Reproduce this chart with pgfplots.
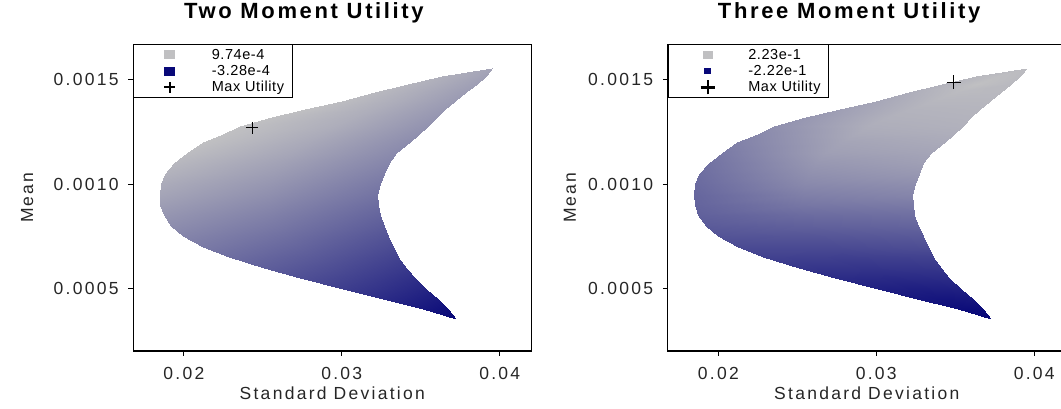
\documentclass[border=0pt]{standalone}
\usepackage{fontspec}
\setmainfont{Liberation Sans}
\usepackage{pgfplots}
\usepackage{pgfplotstable}
\pgfplotsset{compat=1.18}

\newfontfamily\labfont[LetterSpace=13]{Liberation Sans}
\newfontfamily\legfont[LetterSpace=4]{Liberation Sans}
\newfontfamily\ttlfont[LetterSpace=12]{Liberation Sans}

\definecolor{utilnavy}{RGB}{8,8,120}
\definecolor{utilgray}{RGB}{192,192,194}

% Feasible (sd, mean) region sampled on horizontal scanlines:
% outer edge, middle, inner edge; u2 = two-moment utility, u3 = three-moment utility
\pgfplotstableread{
x y u2 u3
0.03953 0.001555 7.74e-4 0.210
0.03953 0.001555 7.74e-4 0.210
0.03953 0.001555 7.74e-4 0.210
0.03632 0.00152 8.60e-4 0.205
0.03772 0.00152 8.09e-4 0.218
0.03912 0.00152 7.55e-4 0.210
0.03418 0.00148 8.96e-4 0.192
0.03637 0.00148 8.19e-4 0.223
0.03856 0.00148 7.37e-4 0.205
0.03208 0.00144 9.25e-4 0.179
0.03498 0.00144 8.28e-4 0.210
0.03788 0.00144 7.23e-4 0.205
0.02999 0.00140 9.50e-4 0.161
0.03359 0.00140 8.36e-4 0.201
0.03719 0.00140 7.08e-4 0.201
0.02769 0.00136 9.74e-4 0.143
0.03212 0.00136 8.44e-4 0.192
0.03655 0.00136 6.92e-4 0.196
0.02556 0.00132 9.74e-4 0.125
0.03078 0.00132 8.46e-4 0.187
0.03600 0.00132 6.72e-4 0.192
0.02353 0.00128 9.74e-4 0.107
0.02950 0.00128 8.45e-4 0.179
0.03546 0.00128 6.51e-4 0.187
0.02249 0.00124 9.74e-4 0.090
0.02870 0.00124 8.28e-4 0.170
0.03491 0.00124 6.31e-4 0.179
0.02121 0.00120 9.74e-4 0.072
0.02777 0.00120 8.14e-4 0.156
0.03433 0.00120 6.11e-4 0.170
0.02020 0.00115 9.46e-4 0.054
0.02683 0.00115 7.90e-4 0.143
0.03345 0.00115 5.91e-4 0.156
0.01938 0.00110 9.12e-4 0.036
0.02618 0.00110 7.57e-4 0.125
0.03297 0.00110 5.57e-4 0.143
0.01878 0.00105 8.74e-4 0.023
0.02574 0.00105 7.19e-4 0.107
0.03270 0.00105 5.15e-4 0.125
0.01855 0.00100 8.28e-4 0.014
0.02550 0.00100 6.75e-4 0.090
0.03244 0.00100 4.74e-4 0.103
0.01846 0.00095 7.80e-4 0.005
0.02535 0.00095 6.29e-4 0.067
0.03224 0.00095 4.30e-4 0.081
0.01850 0.00090 7.29e-4 0.001
0.02541 0.00090 5.77e-4 0.045
0.03231 0.00090 3.78e-4 0.054
0.01874 0.00085 6.74e-4 -0.008
0.02557 0.00085 5.23e-4 0.018
0.03240 0.00085 3.25e-4 0.027
0.01919 0.00080 6.16e-4 -0.022
0.02593 0.00080 4.64e-4 -0.008
0.03266 0.00080 2.67e-4 0.001
0.01995 0.00075 5.51e-4 -0.040
0.02645 0.00075 4.00e-4 -0.035
0.03295 0.00075 2.07e-4 -0.026
0.02122 0.00070 4.75e-4 -0.062
0.02724 0.00070 3.29e-4 -0.062
0.03326 0.00070 1.47e-4 -0.053
0.02285 0.00065 3.89e-4 -0.084
0.02822 0.00065 2.52e-4 -0.089
0.03359 0.00065 0.86e-4 -0.084
0.02510 0.00060 2.85e-4 -0.111
0.02959 0.00060 1.62e-4 -0.115
0.03408 0.00060 0.19e-4 -0.111
0.02736 0.00055 1.76e-4 -0.137
0.03100 0.00055 0.70e-4 -0.142
0.03463 0.00055 -0.50e-4 -0.137
0.03008 0.00050 0.48e-4 -0.164
0.03272 0.00050 -0.35e-4 -0.169
0.03535 0.00050 -1.25e-4 -0.164
0.03259 0.00045 -0.81e-4 -0.186
0.03436 0.00045 -1.40e-4 -0.191
0.03612 0.00045 -2.02e-4 -0.186
0.03516 0.00040 -2.18e-4 -0.209
0.03595 0.00040 -2.46e-4 -0.209
0.03673 0.00040 -2.75e-4 -0.209
0.03725 0.000356 -3.28e-4 -0.222
0.03725 0.000356 -3.28e-4 -0.222
0.03725 0.000356 -3.28e-4 -0.222
}\frontier

\pgfplotsset{
  utilaxis/.style={
    scale only axis, width=398pt, height=306.7pt,
    xmin=0.0168, xmax=0.0420, ymin=0.000201, ymax=0.00167,
    axis line style={line width=1.1pt},
    tick align=outside, xtick pos=bottom, ytick pos=left,
    major tick length=5pt, tick style={line width=1pt, black},
    scaled ticks=false,
    xtick={0.02,0.03,0.04}, xticklabels={0.02,0.03,0.04},
    ytick={0.0005,0.001,0.0015}, yticklabels={0.0005,0.0010,0.0015},
    ticklabel style={font=\labfont\fontsize{17.5}{20}\selectfont, text=black!85},
    xticklabel style={anchor=base, yshift=-24pt},
    yticklabel style={anchor=east, inner xsep=0pt, xshift=-9.5pt},
    xlabel={Standard Deviation}, ylabel={Mean},
    every axis x label/.style={at={(axis description cs:0.5,-0.1575)}, anchor=base,
      font=\labfont\fontsize{17.5}{20}\selectfont, text=black!85},
    colormap={util}{color(0)=(utilnavy) color(1)=(utilgray)},
    title style={anchor=base, font=\ttlfont\bfseries\fontsize{22}{24}\selectfont},
    legend style={at={(0,1)}, anchor=north west, draw=black, line width=1pt,
      fill=white, inner xsep=0pt, inner ysep=1.8pt, row sep=0pt, column sep=0pt,
      font=\legfont\fontsize{14.5}{16}\selectfont,
      nodes={inner sep=0pt}},
    legend cell align=left,
  }
}

\begin{document}
\begin{tikzpicture}
\useasboundingbox (0,0) rectangle (1061pt,409pt);

% Two moment utility
\begin{axis}[utilaxis, at={(133.3pt,58pt)}, anchor=south west,
  title={Two Moment Utility},
  title style={at={(axis description cs:0.4286,1.0652)}},
  every axis y label/.style={at={(axis description cs:-0.252,0.5)}, rotate=90, anchor=base,
    font=\labfont\fontsize{17.5}{20}\selectfont, text=black!85},
  point meta min=-3.28e-4, point meta max=9.74e-4,
  legend style={nodes={text width=81pt}}]
\addlegendimage{legend image code/.code={\fill[utilgray, draw=none] (30.5pt,-4.5pt) rectangle (41.5pt,4.5pt); \path[draw=none, fill=none] (0pt,-8.15pt) rectangle (78pt,8.15pt);}}
\addlegendentry{9.74e-4}
\addlegendimage{legend image code/.code={\fill[utilnavy, draw=none] (30.5pt,-4.5pt) rectangle (41.5pt,4.5pt); \path[draw=none, fill=none] (0pt,-8.15pt) rectangle (78pt,8.15pt);}}
\addlegendentry{-3.28e-4}
\addlegendimage{legend image code/.code={\draw[black, line width=2.2pt] (30.5pt,0pt) -- (41.5pt,0pt) (36pt,-5.5pt) -- (36pt,5.5pt); \path[draw=none, fill=none] (0pt,-8.15pt) rectangle (78pt,8.15pt);}}
\addlegendentry{Max Utility}
\addplot[surf, shader=interp, mesh/cols=3, mesh/rows=27, point meta=explicit, forget plot]
  table[x=x, y=y, meta=u2] {\frontier};
\addplot[only marks, mark=+, mark size=6pt, mark options={line width=1.1pt, black}, forget plot]
  coordinates {(0.02433,0.00127)};
\end{axis}

% Three moment utility
\begin{axis}[utilaxis, at={(667.8pt,58pt)}, anchor=south west,
  title={Three Moment Utility},
  title style={at={(axis description cs:0.4558,1.0652)}},
  every axis y label/.style={at={(axis description cs:-0.2307,0.5)}, rotate=90, anchor=base,
    font=\labfont\fontsize{17.5}{20}\selectfont, text=black!85},
  point meta min=-0.222, point meta max=0.223,
  legend style={nodes={text width=80.4pt}}]
\addlegendimage{legend image code/.code={\fill[utilgray, draw=none] (34.4pt,-4pt) rectangle (44.4pt,4pt); \path[draw=none, fill=none] (0pt,-8.15pt) rectangle (80pt,8.15pt);}}
\addlegendentry{2.23e-1}
\addlegendimage{legend image code/.code={\fill[utilnavy, draw=none] (35.9pt,-3pt) rectangle (42.9pt,3pt); \path[draw=none, fill=none] (0pt,-8.15pt) rectangle (80pt,8.15pt);}}
\addlegendentry{-2.22e-1}
\addlegendimage{legend image code/.code={\draw[black, line width=2.4pt] (32.4pt,0pt) -- (46.4pt,0pt) (39.4pt,-7pt) -- (39.4pt,7pt); \path[draw=none, fill=none] (0pt,-8.15pt) rectangle (80pt,8.15pt);}}
\addlegendentry{Max Utility}
\addplot[surf, shader=interp, mesh/cols=3, mesh/rows=27, point meta=explicit, forget plot]
  table[x=x, y=y, meta=u3] {\frontier};
\addplot[only marks, mark=+, mark size=7pt, mark options={line width=1.1pt, black}, forget plot]
  coordinates {(0.03491,0.001489)};
\end{axis}
\end{tikzpicture}
\end{document}
